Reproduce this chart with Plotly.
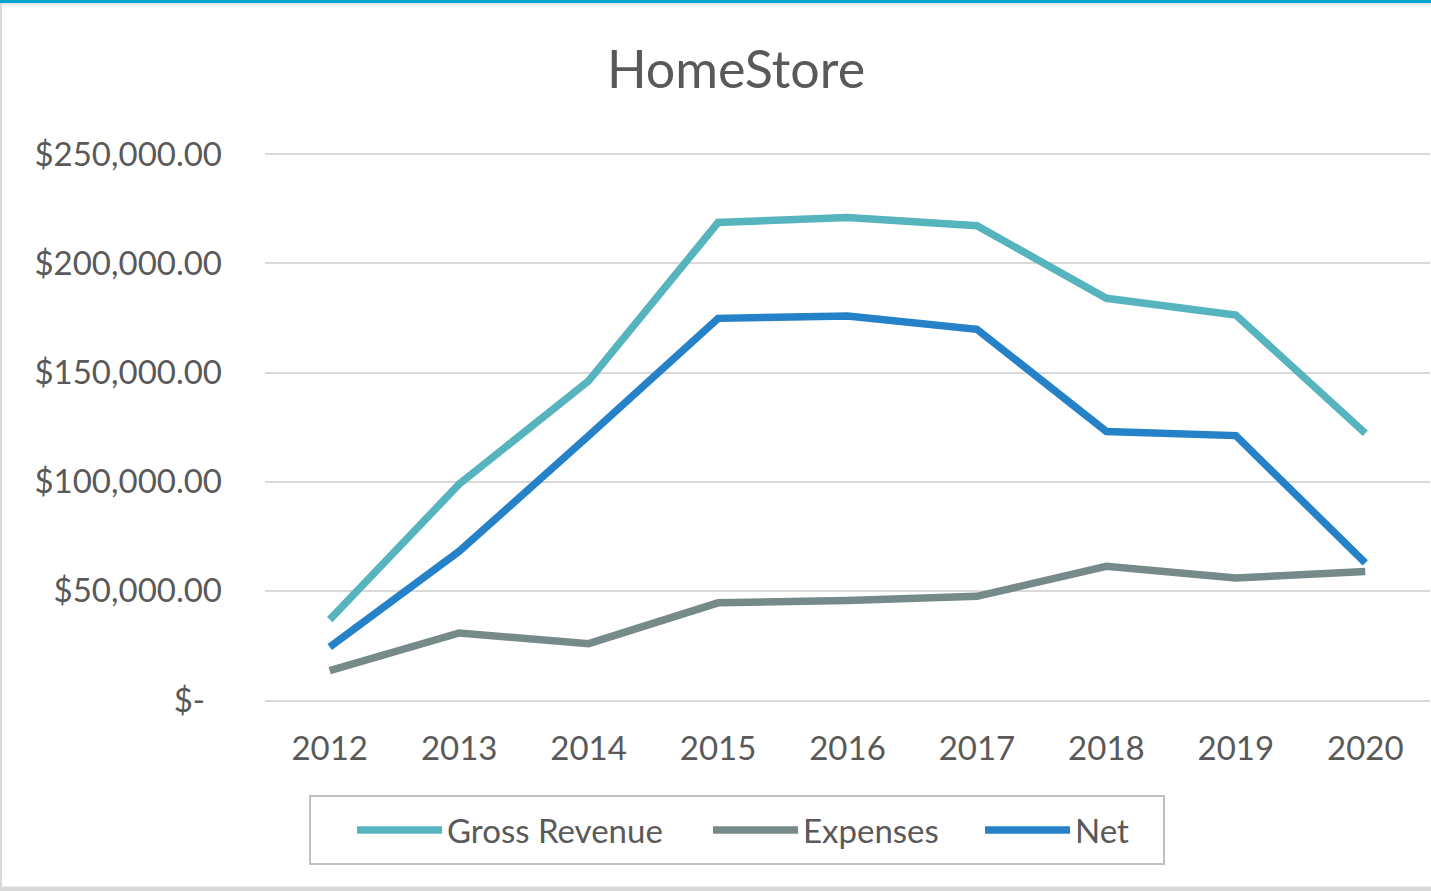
import plotly.graph_objects as go

# values
years = ["2012", "2013", "2014", "2015", "2016", "2017", "2018", "2019", "2020"]
gross_revenue = [36800, 98900, 146200, 218700, 221000, 217200, 184000, 176300, 122200]
expenses = [13500, 30700, 25800, 44500, 45600, 47500, 61200, 55900, 58900]
net = [24300, 68100, 121000, 174800, 175900, 169800, 123000, 121100, 62800]

y_ticks = [0, 50000, 100000, 150000, 200000, 250000]
y_tick_text = ["$-\u00a0\u00a0", "$50,000.00", "$100,000.00", "$150,000.00",
               "$200,000.00", "$250,000.00"]

W, H = 1431, 891
# plot box: x 265..1430, y 154 (250k) .. 700 (0); top padded a little so the 250k grid line shows
y_top = 251000
L, R, B = 265, 1, 191
T = int(round(154 - (y_top - 250000) / 250000 * 546))
txt = "#595959"
font_family = "Lato, 'Open Sans', sans-serif"


def px_x(p):
    return (p - L) / (W - L - R)


def px_y(p):
    return (H - B - p) / (H - T - B)


fig = go.Figure()
fig.add_trace(go.Scatter(x=years, y=gross_revenue, name="Gross Revenue", mode="lines",
                         line=dict(color="#56B4BE", width=7.5), legend="legend"))
fig.add_trace(go.Scatter(x=years, y=expenses, name="Expenses", mode="lines",
                         line=dict(color="#778A8A", width=7.5), legend="legend2"))
fig.add_trace(go.Scatter(x=years, y=net, name="Net", mode="lines",
                         line=dict(color="#2581C8", width=7.5), legend="legend3"))

# frame round the chart and the legend box
shapes = [
    dict(type="line", xref="paper", yref="paper", x0=px_x(0), x1=px_x(W), y0=px_y(1.5), y1=px_y(1.5),
         line=dict(color="#0AA3CF", width=3)),
    dict(type="line", xref="paper", yref="paper", x0=px_x(0), x1=px_x(W), y0=px_y(4), y1=px_y(4),
         line=dict(color="#E6E6E6", width=2)),
    dict(type="line", xref="paper", yref="paper", x0=px_x(1), x1=px_x(1), y0=px_y(3), y1=px_y(H),
         line=dict(color="#D9D9D9", width=2)),
    dict(type="line", xref="paper", yref="paper", x0=px_x(0), x1=px_x(W), y0=px_y(889), y1=px_y(889),
         line=dict(color="#D9D9D9", width=5)),
    dict(type="rect", xref="paper", yref="paper", x0=px_x(310), x1=px_x(1164), y0=px_y(796), y1=px_y(864),
         line=dict(color="#BFBFBF", width=2), fillcolor="rgba(0,0,0,0)"),
]


def legend_at(left_px):
    return dict(orientation="h", x=px_x(left_px), y=px_y(830), xanchor="left", yanchor="middle",
                borderwidth=0, bgcolor="rgba(0,0,0,0)",
                font=dict(size=33, color=txt), itemwidth=85)


fig.update_layout(
    width=W, height=H,
    margin=dict(l=L, r=R, t=T, b=B),
    paper_bgcolor="white", plot_bgcolor="white",
    font=dict(family=font_family, size=33, color=txt),
    title=dict(text="HomeStore", x=736 / W, y=1 - 70 / H, xanchor="center", yanchor="middle",
               font=dict(size=52, color=txt, family=font_family)),
    showlegend=True,
    legend=legend_at(352),
    legend2=legend_at(708),
    legend3=legend_at(980),
    shapes=shapes,
)
fig.update_xaxes(type="category", range=[-0.5, 8.5], showgrid=False, zeroline=False,
                 showline=True, linecolor="#D9D9D9", linewidth=2, ticks="",
                 ticklabelstandoff=18, tickfont=dict(size=33, color=txt))
fig.update_yaxes(range=[0, y_top], tickvals=y_ticks, ticktext=y_tick_text,
                 showgrid=True, gridcolor="#D9D9D9", gridwidth=2, zeroline=False,
                 showline=False, ticks="", ticklabelstandoff=42,
                 tickfont=dict(size=33, color=txt))

fig.write_html("out.html", config={"displayModeBar": False},
               post_script="document.body.style.margin='0';")
